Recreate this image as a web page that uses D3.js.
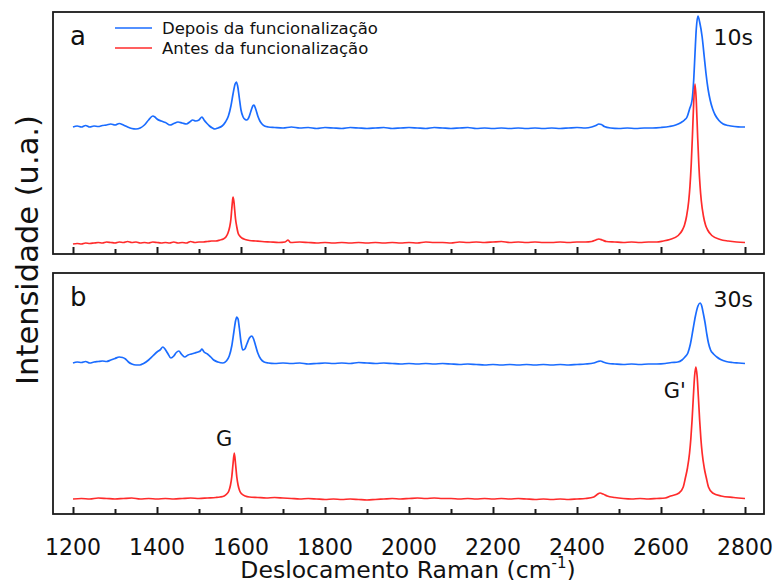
<!DOCTYPE html>
<html><head><meta charset="utf-8">
<script src="https://cdn.jsdelivr.net/npm/d3@7"></script>
<style>html,body{margin:0;padding:0;background:#fff;}svg{display:block;font-family:"DejaVu Sans",Verdana,sans-serif;}</style>
</head><body><svg id="c" width="774" height="580"></svg>
<script>
// ---- data (wavenumber cm^-1, intensity a.u.) ----
const depois10s = [[1200,127],[1210,128],[1220,127],[1230,128.5],[1240,127],[1250,128],[1260,127.5],[1270,128.5],[1280,129],[1290,130],[1300,129],[1310,130.5],[1320,129],[1330,127],[1340,125.5],[1350,125],[1360,126],[1370,129],[1380,134],[1390,138],[1395,137],[1400,135],[1410,133],[1420,131.5],[1431,129],[1440,130.5],[1450,132],[1460,131],[1470,130],[1478,132],[1485,134],[1492,133],[1500,134],[1507,137],[1512,134],[1518,131],[1525,128],[1532,126],[1538,125],[1545,126],[1555,128],[1563,132],[1570,138],[1576,148],[1581,160],[1586,170],[1589,172],[1592,168],[1596,156],[1600,144],[1605,137],[1610,134.5],[1614,134],[1618,136],[1623,142],[1628,148],[1631,149],[1635,145],[1640,138],[1645,133],[1650,130],[1656,128],[1665,127],[1680,126.5],[1700,126],[1720,127],[1740,126],[1760,126.5],[1780,125.5],[1800,126.5],[1820,126],[1840,125.5],[1860,126.5],[1880,126],[1900,125.5],[1920,126],[1940,126.5],[1960,125.5],[1980,126],[2000,126.5],[2020,126],[2040,125.5],[2060,126.5],[2080,126],[2100,125.5],[2120,126],[2140,126.5],[2160,125.5],[2180,126],[2200,125.5],[2220,126],[2240,125.5],[2260,126],[2280,125.5],[2300,126],[2320,125.5],[2340,126],[2360,125.5],[2380,126],[2400,126.5],[2420,126],[2435,127],[2445,128.5],[2452,130],[2458,129.5],[2465,127.5],[2480,126],[2500,125.5],[2520,126],[2540,125.5],[2560,126],[2580,126],[2600,126.5],[2620,127.5],[2635,129],[2648,131.5],[2656,134],[2662,137],[2668,145],[2674,154],[2678,175],[2681,201],[2684,225],[2688,238],[2692,232],[2698,217],[2703,197],[2707,181],[2712,165],[2717,154],[2723,145],[2729,139],[2738,133.5],[2748,130],[2760,128.5],[2775,127.5],[2790,127],[2800,127]];
const antes10s = [[1200,10],[1210,10.5],[1220,10],[1230,11],[1240,10.5],[1250,11],[1260,11.5],[1270,11],[1280,12],[1290,11.5],[1300,11],[1310,12],[1320,11.5],[1330,12.5],[1340,11.5],[1350,12],[1360,11],[1370,11.5],[1380,11],[1390,12],[1400,11.5],[1410,11],[1420,11.5],[1430,11],[1440,12],[1450,11],[1460,11.5],[1470,11],[1480,12.5],[1490,11.5],[1500,12],[1510,12],[1520,12.5],[1530,13],[1540,13],[1550,14],[1558,15],[1564,17],[1569,21],[1573,27],[1576,35],[1578,45],[1580,54],[1581,57],[1583,53],[1585,44],[1587,35],[1590,27],[1593,21],[1597,18],[1602,16],[1610,14.5],[1620,13.5],[1635,13],[1650,12.5],[1670,12],[1690,11.5],[1705,12],[1712,14],[1718,11.5],[1740,12],[1760,11.5],[1780,11],[1800,11.5],[1820,11],[1840,11.5],[1860,11],[1880,11.5],[1900,11],[1920,11.5],[1940,11],[1960,11.5],[1980,11],[2000,11.5],[2020,11],[2040,12],[2060,11.5],[2080,11.5],[2100,11],[2120,12],[2140,11.5],[2160,12],[2180,11.5],[2200,12],[2220,12.5],[2240,11.5],[2260,12],[2280,11.5],[2300,12],[2320,11.5],[2340,11.5],[2360,12],[2380,11.5],[2400,12],[2420,12],[2435,12.5],[2445,14],[2452,15],[2460,14],[2470,12.5],[2490,12],[2510,11.5],[2530,12],[2550,11.5],[2570,12],[2590,12],[2605,13],[2621,14.5],[2641,18.5],[2651,24],[2656,29],[2661,38],[2666,53],[2669,68],[2672,90],[2675,120],[2678,153],[2681,170],[2684,153],[2687,120],[2690,90],[2693,68],[2696,53],[2701,38],[2706,29],[2711,24],[2721,18.5],[2741,14.5],[2760,13],[2780,12],[2800,11.5]];
const depois30s = [[1200,151],[1210,152],[1220,151.5],[1230,152.5],[1240,151],[1250,152],[1260,152.5],[1270,153],[1280,152.5],[1290,154],[1300,155.5],[1310,157],[1318,156.5],[1325,155],[1332,152],[1340,150],[1350,149],[1359,149],[1368,150.5],[1380,154],[1390,158],[1400,162],[1407,164],[1414,167],[1419,165],[1425,161],[1433,156],[1440,158],[1446,161.5],[1452,163],[1458,160],[1466,157],[1474,159],[1482,160],[1490,161],[1498,162],[1503,163],[1507,165],[1512,162],[1520,160],[1528,157],[1535,154],[1545,152],[1557,151],[1565,153],[1572,158],[1578,168],[1583,182],[1587,193],[1590,197],[1593,195],[1596,186],[1600,172],[1604,164],[1609,165],[1614,170],[1620,176],[1626,178],[1630,175],[1635,168],[1640,161],[1647,155],[1655,152],[1665,151],[1680,150.5],[1700,151],[1720,150.5],[1740,151],[1760,150],[1780,150.5],[1800,151],[1820,150.5],[1840,151],[1860,150.5],[1880,151.5],[1900,151],[1920,150.5],[1940,151],[1960,150.5],[1980,150],[2000,150.5],[2020,150],[2040,150.5],[2060,150],[2080,150.5],[2100,150],[2120,149.5],[2140,150],[2160,149.5],[2180,149],[2200,149.5],[2220,149],[2240,149.5],[2260,149],[2280,149.5],[2300,149],[2320,149.5],[2340,149],[2360,149.5],[2380,149],[2400,149.5],[2420,150],[2440,151],[2450,152.5],[2456,153],[2462,152],[2475,150.5],[2490,150],[2510,149.5],[2530,150],[2550,149.5],[2570,150],[2590,150],[2610,150.5],[2625,151.5],[2640,152],[2650,154],[2657,157],[2664,161],[2670,170],[2676,184],[2682,198],[2688,208],[2693,211],[2697,208],[2701,200],[2705,191],[2709,180],[2713,171],[2718,164],[2725,160],[2733,157],[2742,154.5],[2755,152.5],[2770,151.5],[2785,151],[2800,150.5]];
const antes30s = [[1200,15],[1220,15.5],[1240,15],[1260,16],[1280,15.5],[1300,15],[1320,15.5],[1340,16],[1360,15],[1380,15.5],[1400,15],[1420,15.5],[1440,15],[1460,15.5],[1480,16],[1500,15.5],[1520,16],[1540,16.5],[1550,17],[1560,18],[1566,20],[1571,23],[1575,29],[1578,37],[1581,50],[1584,61],[1587,50],[1590,37],[1593,29],[1597,23],[1602,20],[1610,18],[1620,17],[1640,16.5],[1660,16],[1680,16.5],[1700,16],[1720,15.5],[1740,15],[1760,15.5],[1780,15],[1800,14.5],[1820,15],[1840,14.5],[1860,15],[1880,14.5],[1900,14],[1920,14.5],[1940,15],[1960,15.5],[1980,15],[2000,15.5],[2020,16],[2040,15.5],[2060,16],[2080,15.5],[2100,15.5],[2120,15],[2140,15.5],[2160,15],[2180,15.5],[2200,15],[2220,15.5],[2240,15],[2260,15.5],[2280,15],[2300,14.5],[2320,15],[2340,14.5],[2360,15],[2380,14.5],[2400,15],[2420,15.5],[2440,17],[2448,19.5],[2455,21],[2462,20],[2472,18],[2490,16.5],[2510,15.5],[2530,15],[2550,15.5],[2570,15],[2590,15.5],[2610,16],[2623,18],[2643,21],[2653,27],[2658,36],[2663,46],[2668,61],[2671,75],[2674,94],[2677,117],[2680,138],[2683,147],[2686,138],[2689,117],[2692,94],[2695,75],[2698,61],[2703,46],[2708,36],[2713,27],[2723,21],[2743,18],[2773,16.5],[2800,15.5]];
const majorTicks = [1200,1400,1600,1800,2000,2200,2400,2600,2800];
const minorTicks = [1300,1500,1700,1900,2100,2300,2500,2700];
const seriesNames = ["Depois da funcionalização","Antes da funcionalização"];
const panelLabels = ["a","b"];
const timeLabels = ["10s","30s"];
const peakLabels = [["G",1560],["G'",2633]];

const colors = {depois:"#1a6cff", antes:"#ff2b2b"};
const svg = d3.select("#c");
const L=53, R=764;
const x = d3.scaleLinear().domain([1200,2800]).range([73,745]);
const panels = [
  {top:12, bottom:254, max:242, blue:depois10s, red:antes10s, letter:panelLabels[0], time:timeLabels[0], timeY:45},
  {top:273, bottom:514, max:241, blue:depois30s, red:antes30s, letter:panelLabels[1], time:timeLabels[1], timeY:307}
];

function txt(g, tx, ty, s, size, anchor, sy){
  return g.append("text").attr("transform",`translate(${tx},${ty}) scale(1,${sy||1})`)
    .attr("text-anchor",anchor||"start").attr("font-size",size).attr("fill","#111").text(s);
}

panels.forEach((p,i)=>{
  const y = d3.scaleLinear().domain([0,p.max]).range([p.bottom,p.top]);
  const g = svg.append("g");
  const line = d3.line().x(d=>x(d[0])).y(d=>y(d[1])).curve(d3.curveMonotoneX);
  g.append("path").datum(p.blue).attr("d",line).attr("fill","none").attr("stroke",colors.depois).attr("stroke-width",1.7);
  g.append("path").datum(p.red).attr("d",line).attr("fill","none").attr("stroke",colors.antes).attr("stroke-width",1.7);
  g.append("rect").attr("x",L).attr("y",p.top).attr("width",R-L).attr("height",p.bottom-p.top)
    .attr("fill","none").attr("stroke","#1a1a1a").attr("stroke-width",1.8);
  const ax = d3.axisBottom(x).tickValues(majorTicks).tickSize(-7).tickFormat(()=> "");
  const ga = g.append("g").attr("transform",`translate(0,${p.bottom})`).call(ax);
  ga.select(".domain").remove();
  ga.selectAll(".tick line").attr("stroke","#1a1a1a").attr("stroke-width",2);
  const axm = d3.axisBottom(x).tickValues(minorTicks).tickSize(-5).tickFormat(()=> "");
  const gm = g.append("g").attr("transform",`translate(0,${p.bottom})`).call(axm);
  gm.select(".domain").remove();
  gm.selectAll(".tick line").attr("stroke","#1a1a1a").attr("stroke-width",2);
  if(i===1){
    majorTicks.forEach(t=> txt(g, x(t), 555, d3.format("d")(t), 22, "middle", 1.05));
  }
  txt(g, 70, p.top+33, p.letter, 26, "start", 1.05);
  txt(g, 753, p.timeY, p.time, 22, "end", 1);
});

// legend
const lg = svg.append("g");
[[colors.depois,seriesNames[0],28],[colors.antes,seriesNames[1],48]].forEach(([c,t,yy])=>{
  lg.append("line").attr("x1",115).attr("x2",152).attr("y1",yy).attr("y2",yy).attr("stroke",c).attr("stroke-width",1.7);
  txt(lg, 162, yy+6, t, 16.5, "start", 1);
});

// peak labels in panel b
peakLabels.forEach(([s,w],k)=> txt(svg, x(w), k===0?446:398, s, 21, "middle", 1.05));

// axis titles
const xt = svg.append("text").attr("transform",`translate(408,578)`).attr("text-anchor","middle").attr("font-size",23.5).attr("fill","#111");
xt.append("tspan").text("Deslocamento Raman (cm");
xt.append("tspan").attr("dy",-10).attr("font-size",15).text("-1");
xt.append("tspan").attr("dy",10).text(")");
svg.append("text").attr("transform",`translate(38,250) rotate(-90)`).attr("text-anchor","middle").attr("font-size",30.5).attr("fill","#111").text("Intensidade (u.a.)");
</script></body></html>
